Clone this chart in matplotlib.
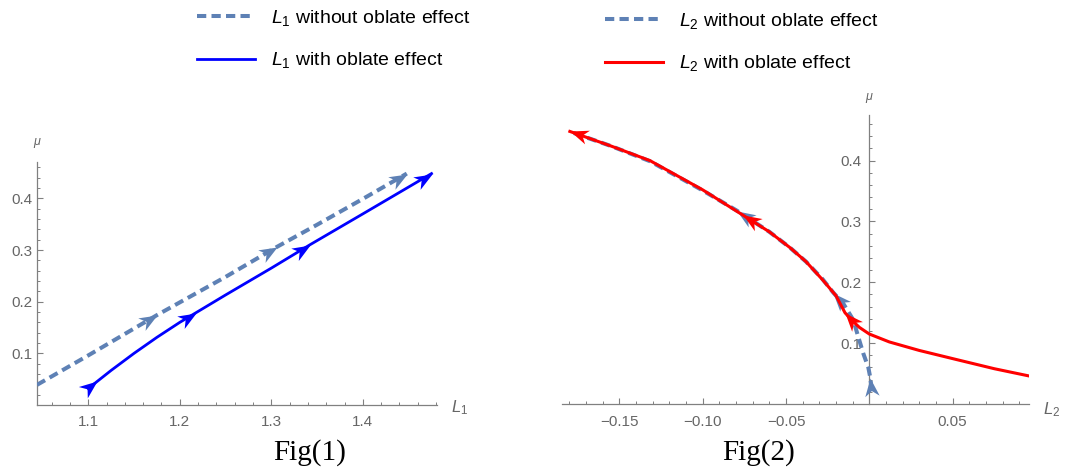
import numpy as np
import matplotlib
matplotlib.use("Agg")
import matplotlib.pyplot as plt
from matplotlib.path import Path
from matplotlib.markers import MarkerStyle
from matplotlib.transforms import Affine2D, blended_transform_factory
from matplotlib.ticker import MultipleLocator, FixedLocator, FixedFormatter

# ---------------- data ----------------
# Fig(1): L1 position vs mu
L1_PLAIN_X = [1.044, 1.10, 1.175, 1.25, 1.306, 1.35, 1.40, 1.448]
L1_PLAIN_MU = [0.039, 0.096, 0.174, 0.248, 0.306, 0.349, 0.399, 0.448]
L1_PLAIN_ARROWS = [2, 4, 7]

L1_OBL_X = [1.100, 1.110, 1.125, 1.150, 1.175, 1.200, 1.218, 1.250, 1.300, 1.342, 1.400, 1.450, 1.475]
L1_OBL_MU = [0.032, 0.046, 0.067, 0.100, 0.131, 0.160, 0.179, 0.213, 0.265, 0.310, 0.370, 0.422, 0.448]
L1_OBL_ARROWS = [1, 6, 9, 12]

# Fig(2): L2 position vs mu
L2_PLAIN_X = [0.0014, 0.0006, -0.0006, -0.0036, -0.0066, -0.0096, -0.0156, -0.0216, -0.028,
              -0.038, -0.0476, -0.060, -0.0796, -0.100, -0.1316, -0.155, -0.178]
L2_PLAIN_MU = [0.023, 0.043, 0.060, 0.083, 0.110, 0.138, 0.165, 0.183, 0.205,
               0.234, 0.257, 0.283, 0.318, 0.351, 0.399, 0.424, 0.446]
L2_PLAIN_ARROWS = [1, 7, 12]

L2_OBL_X = [0.096, 0.075, 0.0524, 0.030, 0.012, 0.0, -0.006, -0.011, -0.0146, -0.020, -0.028,
            -0.038, -0.0476, -0.060, -0.0756, -0.100, -0.1316, -0.155, -0.1797]
L2_OBL_MU = [0.046, 0.058, 0.073, 0.088, 0.102, 0.115, 0.126, 0.139, 0.150, 0.178, 0.204,
             0.234, 0.257, 0.283, 0.310, 0.352, 0.400, 0.424, 0.448]
L2_OBL_ARROWS = [8, 14, 18]

L1_XTICKS = [1.1, 1.2, 1.3, 1.4]
L1_XTICKLABELS = ["1.1", "1.2", "1.3", "1.4"]
L2_XTICKS = [-0.15, -0.10, -0.05, 0.05]
L2_XTICKLABELS = ["\u22120.15", "\u22120.10", "\u22120.05", "0.05"]
MU_TICKS = [0.1, 0.2, 0.3, 0.4]
MU_TICKLABELS = ["0.1", "0.2", "0.3", "0.4"]

LEG1 = [r"$L_1$ without oblate effect", r"$L_1$ with oblate effect"]
LEG2 = [r"$L_2$ without oblate effect", r"$L_2$ with oblate effect"]

# ---------------- style ----------------
plt.rcParams["font.family"] = ["Liberation Sans", "DejaVu Sans"]
plt.rcParams["mathtext.fontset"] = "custom"
plt.rcParams["mathtext.it"] = "Liberation Sans:italic"
plt.rcParams["mathtext.rm"] = "Liberation Sans"
plt.rcParams["mathtext.bf"] = "Liberation Sans:bold"

C_DASH = "#5E81B5"
C_BLUE = "#0000FF"
C_RED = "#FF0000"
AX_COL = "#808080"
LAB_COL = "#666666"

W, H = 1065, 470
fig = plt.figure(figsize=(W / 100, H / 100), dpi=100)


def px_axes(x0, x1, ytop, ybot):
    return fig.add_axes([x0 / W, 1 - ybot / H, (x1 - x0) / W, (ybot - ytop) / H])


ax1 = px_axes(37, 437, 161.7, 405)
ax2 = px_axes(561.7, 1029.3, 115, 404)

ax1.set_xlim(1.044, 1.481)
ax1.set_ylim(0, 0.471)
ax2.set_xlim(-0.1846, 0.096)
ax2.set_ylim(0, 0.475)

HEAD = Path([(0, 0), (-1, 0.40), (-0.70, 0), (-1, -0.40), (0, 0)],
            [Path.MOVETO, Path.LINETO, Path.LINETO, Path.LINETO, Path.CLOSEPOLY])


def arrows(ax, xs, ys, idxs, color, z):
    for i in idxs:
        p = ax.transData.transform([[xs[i - 1], ys[i - 1]], [xs[i], ys[i]]])
        ang = np.degrees(np.arctan2(p[1, 1] - p[0, 1], p[1, 0] - p[0, 0]))
        m = MarkerStyle(HEAD, transform=Affine2D().rotate_deg(ang))
        ax.plot([xs[i]], [ys[i]], ls="none", marker=m, ms=26, color=color,
                mew=0, zorder=z)


def style(ax, xt, xtl, ypad, xpad):
    for s in ["top", "right"]:
        ax.spines[s].set_visible(False)
    for s in ["left", "bottom"]:
        ax.spines[s].set_color(AX_COL)
        ax.spines[s].set_linewidth(0.9)
    ax.xaxis.set_major_locator(FixedLocator(xt))
    ax.xaxis.set_major_formatter(FixedFormatter(xtl))
    ax.yaxis.set_major_locator(FixedLocator(MU_TICKS))
    ax.yaxis.set_major_formatter(FixedFormatter(MU_TICKLABELS))
    ax.tick_params(which="both", direction="in", colors=AX_COL, labelcolor=LAB_COL,
                   labelsize=11)
    ax.tick_params(which="major", length=4.0, width=0.8)
    ax.tick_params(which="minor", length=2.4, width=0.7)
    ax.tick_params(axis="y", pad=ypad)
    ax.tick_params(axis="x", pad=xpad)


# ---- Fig(1)
d1, = ax1.plot(L1_PLAIN_X, L1_PLAIN_MU, color=C_DASH, lw=2.9, dashes=(2.3, 1.3),
               dash_capstyle="butt", zorder=3)
s1, = ax1.plot(L1_OBL_X, L1_OBL_MU, color=C_BLUE, lw=2.0, zorder=4)
arrows(ax1, L1_PLAIN_X, L1_PLAIN_MU, L1_PLAIN_ARROWS, C_DASH, 3.5)
arrows(ax1, L1_OBL_X, L1_OBL_MU, L1_OBL_ARROWS, C_BLUE, 4.5)
style(ax1, L1_XTICKS, L1_XTICKLABELS, 3.4, 7.2)
ax1.xaxis.set_minor_locator(MultipleLocator(0.02))
ax1.yaxis.set_minor_locator(MultipleLocator(0.02))
ax1.text(0.0, 1.077, r"$\mu$", transform=ax1.transAxes, ha="center", va="center",
         fontsize=9, color=LAB_COL)
ax1.text(1.0575, -0.01, r"$L_1$", transform=ax1.transAxes, ha="center", va="center",
         fontsize=12, color=LAB_COL)

# ---- Fig(2)
d2, = ax2.plot(L2_PLAIN_X, L2_PLAIN_MU, color=C_DASH, lw=2.9, dashes=(2.3, 1.3),
               dash_capstyle="butt", zorder=3)
s2, = ax2.plot(L2_OBL_X, L2_OBL_MU, color=C_RED, lw=2.2, zorder=4)
arrows(ax2, L2_PLAIN_X, L2_PLAIN_MU, L2_PLAIN_ARROWS, C_DASH, 3.5)
arrows(ax2, L2_OBL_X, L2_OBL_MU, L2_OBL_ARROWS, C_RED, 4.5)
ax2.spines["left"].set_position(("data", 0))
style(ax2, L2_XTICKS, L2_XTICKLABELS, 5.8, 8.0)
ax2.xaxis.set_minor_locator(MultipleLocator(0.01))
ax2.yaxis.set_minor_locator(MultipleLocator(0.02))
tr = blended_transform_factory(ax2.transData, ax2.transAxes)
ax2.text(0.0, 1.059, r"$\mu$", transform=tr, ha="center", va="center",
         fontsize=9, color=LAB_COL)
ax2.text(1.0485, -0.02, r"$L_2$", transform=ax2.transAxes, ha="center", va="center",
         fontsize=12, color=LAB_COL)

# ---- legends
lkw = dict(loc="upper left", bbox_transform=fig.transFigure, frameon=False, fontsize=14,
           handlelength=3.0, handletextpad=0.8, labelspacing=1.15, borderpad=0,
           borderaxespad=0)
ax1.legend([d1, s1], LEG1, bbox_to_anchor=(197 / W, 1 - 8 / H), **lkw)
ax2.legend([d2, s2], LEG2, bbox_to_anchor=(605 / W, 1 - 11 / H), **lkw)

# ---- captions
fig.text(310 / W, 10 / H, "Fig(1)", family="Liberation Serif", fontsize=21,
         ha="center", va="baseline")
fig.text(759 / W, 10 / H, "Fig(2)", family="Liberation Serif", fontsize=21,
         ha="center", va="baseline")

fig.savefig("out.png", dpi=100)
